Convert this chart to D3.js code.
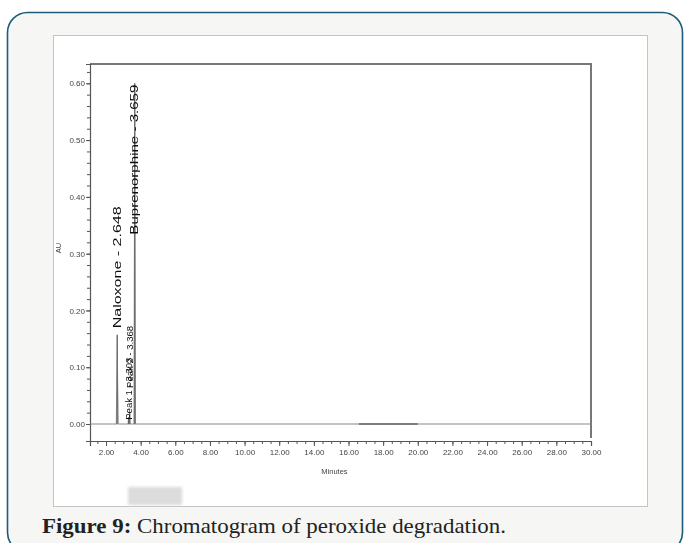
<!DOCTYPE html>
<html>
<head>
<meta charset="utf-8">
<script src="https://cdn.jsdelivr.net/npm/d3@7"></script>
<style>
  html, body { margin: 0; padding: 0; background: #ffffff; }
  svg { display: block; }
</style>
</head>
<body>
<svg id="chart" width="686" height="543"></svg>
<script>
// ---- data ----
const yTicks = [0.00, 0.10, 0.20, 0.30, 0.40, 0.50, 0.60];
const xTicks = [2, 4, 6, 8, 10, 12, 14, 16, 18, 20, 22, 24, 26, 28, 30];
const peakNames = ["Naloxone - 2.648", "Peak 1 - 3.303", "Peak 2 - 3.368", "Buprenorphine - 3.659"];
const peakTimes = [2.648, 3.303, 3.368, 3.659];
const peakHeights = [0.157, 0.012, 0.02, 0.60];
// chromatogram trace (minutes, AU)
const traceTime = [1.1, 2.60, 2.635, 2.648, 2.66, 2.70, 3.28, 3.303, 3.33, 3.35, 3.368, 3.39, 3.62, 3.652, 3.659, 3.667, 3.70, 30.0];
const traceAU   = [0.0, 0.0, 0.10, 0.157, 0.09, 0.0, 0.0, 0.012, 0.0, 0.0, 0.02, 0.0, 0.0, 0.40, 0.60, 0.38, 0.0, 0.0];
const darkSegment = [16.6, 20.0];

const svg = d3.select("#chart");

// ---- page frame ----
svg.append("rect").attr("x", 7.5).attr("y", 12.5).attr("width", 675).attr("height", 540)
  .attr("rx", 20).attr("ry", 20)
  .attr("fill", "#f6f6f4").attr("stroke", "#1d5c7a").attr("stroke-width", 1.6);

svg.append("rect").attr("x", 53.5).attr("y", 35.5).attr("width", 594).attr("height", 471)
  .attr("fill", "#ffffff").attr("stroke", "#c4c4c4").attr("stroke-width", 1);

// blurred grey smudge
const defs = svg.append("defs");
defs.append("filter").attr("id", "blur").append("feGaussianBlur").attr("stdDeviation", 1.5);
defs.append("filter").attr("id", "soft").append("feGaussianBlur").attr("stdDeviation", 0.35);
svg.append("rect").attr("x", 128).attr("y", 487).attr("width", 54).attr("height", 18)
  .attr("fill", "#dcdcdc").attr("filter", "url(#blur)");

// ---- scales ----
const plotL = 90, plotR = 591, plotT = 64, plotB = 441;
const x = d3.scaleLinear().domain([1.076, 30]).range([plotL, plotR]);
const y = d3.scaleLinear().domain([-0.0299, 0.634]).range([plotB, plotT]);

const g = svg.append("g").attr("filter", "url(#soft)");

// frame top & right
g.append("path")
  .attr("d", `M${plotL},${plotT}H${plotR}V${plotB - 3}`)
  .attr("fill", "none").attr("stroke", "#777").attr("stroke-width", 2);

// y axis
const yMinor = d3.range(0, 0.6301, 0.02);
const yAxisMinor = d3.axisLeft(y).tickValues(yMinor).tickSize(3).tickFormat("");
g.append("g").attr("transform", `translate(${plotL},0)`).call(yAxisMinor)
  .call(s => s.select(".domain").remove())
  .call(s => s.selectAll("line").attr("stroke", "#555"));
const yAxis = d3.axisLeft(y).tickValues(yTicks).tickSize(4).tickPadding(1)
  .tickFormat(d3.format(".2f"));
g.append("g").attr("transform", `translate(${plotL},0)`).call(yAxis)
  .call(s => s.select(".domain").attr("stroke", "#555").attr("stroke-width", 1.2))
  .call(s => s.selectAll("line").attr("stroke", "#555"))
  .call(s => s.selectAll("text").attr("font-family", "Liberation Sans, Arial, sans-serif")
    .attr("font-size", 8).attr("fill", "#444"));

// x axis
const xMinor = d3.range(1.5, 30.01, 0.5);
const xAxisMinor = d3.axisBottom(x).tickValues(xMinor).tickSize(3).tickFormat("");
g.append("g").attr("transform", `translate(0,${plotB})`).call(xAxisMinor)
  .call(s => s.select(".domain").remove())
  .call(s => s.selectAll("line").attr("stroke", "#555"));
const xAxis = d3.axisBottom(x).tickValues(xTicks).tickSize(5).tickPadding(3)
  .tickFormat(d3.format(".2f"));
g.append("g").attr("transform", `translate(0,${plotB})`).call(xAxis)
  .call(s => s.select(".domain").attr("stroke", "#555").attr("stroke-width", 1.2))
  .call(s => s.selectAll("line").attr("stroke", "#555"))
  .call(s => s.selectAll("text").attr("font-family", "Liberation Sans, Arial, sans-serif")
    .attr("font-size", 8).attr("fill", "#444"));

// axis titles
g.append("text").attr("x", (plotL + plotR) / 2 - 6).attr("y", 474)
  .attr("text-anchor", "middle").attr("font-family", "Liberation Sans, Arial, sans-serif")
  .attr("font-size", 7.5).attr("fill", "#444").text("Minutes");
g.append("text").attr("transform", `translate(61,${y(0.31)}) rotate(-90)`)
  .attr("text-anchor", "middle").attr("font-family", "Liberation Sans, Arial, sans-serif")
  .attr("font-size", 7.5).attr("fill", "#444").text("AU");

// trace
const trace = traceTime.map((t, i) => [t, traceAU[i]]);
const line = d3.line().x(d => x(d[0])).y(d => y(d[1]));
g.append("path").datum(trace).attr("d", line)
  .attr("fill", "none").attr("stroke", "#8a8a8a").attr("stroke-width", 1.2);
g.append("path").datum(darkSegment.map(t => [t, 0])).attr("d", line)
  .attr("fill", "none").attr("stroke", "#666").attr("stroke-width", 1.6);

// peak drop lines & labels
peakTimes.forEach((t, i) => {
  g.append("line").attr("x1", x(t)).attr("x2", x(t)).attr("y1", y(0)).attr("y2", y(peakHeights[i]))
    .attr("stroke", "#666").attr("stroke-width", 1);
});
const labelStart = [0.165, 0.004, 0.06, 0.33];
const labelLen = [122, 62, 62, 150];
peakNames.forEach((n, i) => {
  g.append("text")
    .attr("transform", `translate(${x(peakTimes[i]) + 3.5},${y(labelStart[i]) - 2}) rotate(-90)`)
    .attr("font-family", "Liberation Sans, Arial, sans-serif")
    .attr("font-size", i === 0 || i === 3 ? 10 : 9).attr("fill", "#111")
    .attr("textLength", labelLen[i]).attr("lengthAdjust", "spacingAndGlyphs")
    .text(n);
});

// caption
const cap = svg.append("text").attr("x", 42).attr("y", 533)
  .attr("font-family", "Liberation Serif, 'Times New Roman', serif").attr("font-size", 21).attr("fill", "#222")
  .attr("textLength", 464).attr("lengthAdjust", "spacingAndGlyphs");
cap.append("tspan").attr("font-weight", "bold").text("Figure 9:");
cap.append("tspan").text(" Chromatogram of peroxide degradation.");
</script>
</body>
</html>
